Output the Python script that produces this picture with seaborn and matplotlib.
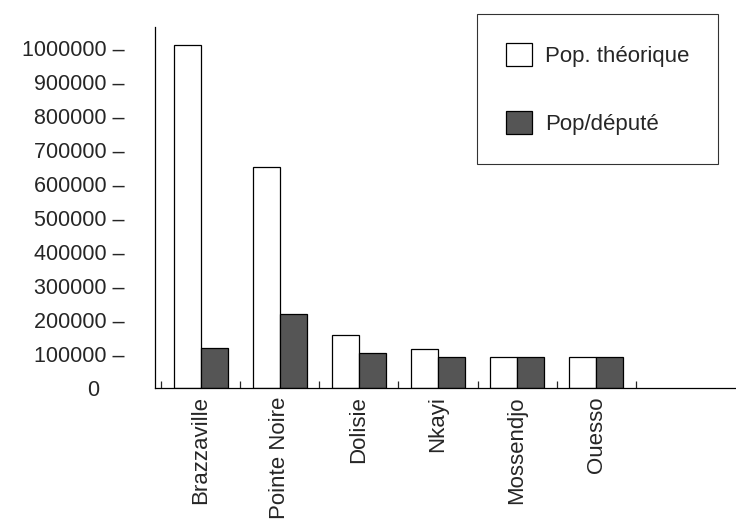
"""Population théorique vs population par député, villes du Congo"""

import pandas as pd
import seaborn as sns
import matplotlib.pyplot as plt
from matplotlib.ticker import FixedLocator

villes = ['Brazzaville', 'Pointe Noire', 'Dolisie', 'Nkayi', 'Mossendjo', 'Ouesso']
pop_theorique = [1010000, 650000, 156000, 115000, 91000, 91000]
pop_depute = [118000, 218000, 103000, 91000, 91000, 91000]
series = ['Pop. théorique', 'Pop/député']
yticks = [0, 100000, 200000, 300000, 400000, 500000, 600000, 700000, 800000, 900000, 1000000]

sns.set_style('white')
plt.rcParams['font.family'] = ['Liberation Sans', 'DejaVu Sans']

df = pd.DataFrame({'ville': villes * 2,
                   'serie': [series[0]] * len(villes) + [series[1]] * len(villes),
                   'pop': pop_theorique + pop_depute})

fig = plt.figure(figsize=(7.36, 5.21), dpi=100)
ax = fig.add_axes([0.2106, 0.2553, 0.7894, 0.693])

sns.barplot(data=df, x='ville', y='pop', hue='serie', ax=ax, width=0.68,
            palette=['white', '#555555'], saturation=1, edgecolor='black',
            linewidth=0.9, errorbar=None)

ax.set_xlim(-0.58, 6.77)
ax.set_ylim(0, 1062000)
ax.set_xlabel('')
ax.set_ylabel('')

ax.set_yticks(yticks)
ax.set_yticklabels([f'{v} –' if v else '0    ' for v in yticks], fontsize=15.5)
ax.tick_params(axis='y', length=0, pad=22)
ax.tick_params(axis='x', which='major', length=0, pad=6, labelsize=16, labelrotation=90)
ax.xaxis.set_minor_locator(FixedLocator([i + 0.5 for i in range(-1, 6)]))
ax.tick_params(axis='x', which='minor', direction='in', length=5, width=0.9, bottom=True)

for side in ['top', 'right']:
    ax.spines[side].set_visible(False)
for side in ['left', 'bottom']:
    ax.spines[side].set_color('black')
    ax.spines[side].set_linewidth(0.9)

handles, labels = ax.get_legend_handles_labels()
ax.legend(handles, labels, loc='upper left', bbox_to_anchor=(0.648, 0.973),
          bbox_transform=fig.transFigure, fontsize=16, frameon=True,
          fancybox=False, edgecolor='black', borderpad=1.3, labelspacing=2.0,
          handlelength=1.2, handleheight=1.2, handletextpad=0.55,
          borderaxespad=0)
ax.get_legend().get_frame().set_linewidth(0.8)

plt.savefig('out.png', dpi=100)
